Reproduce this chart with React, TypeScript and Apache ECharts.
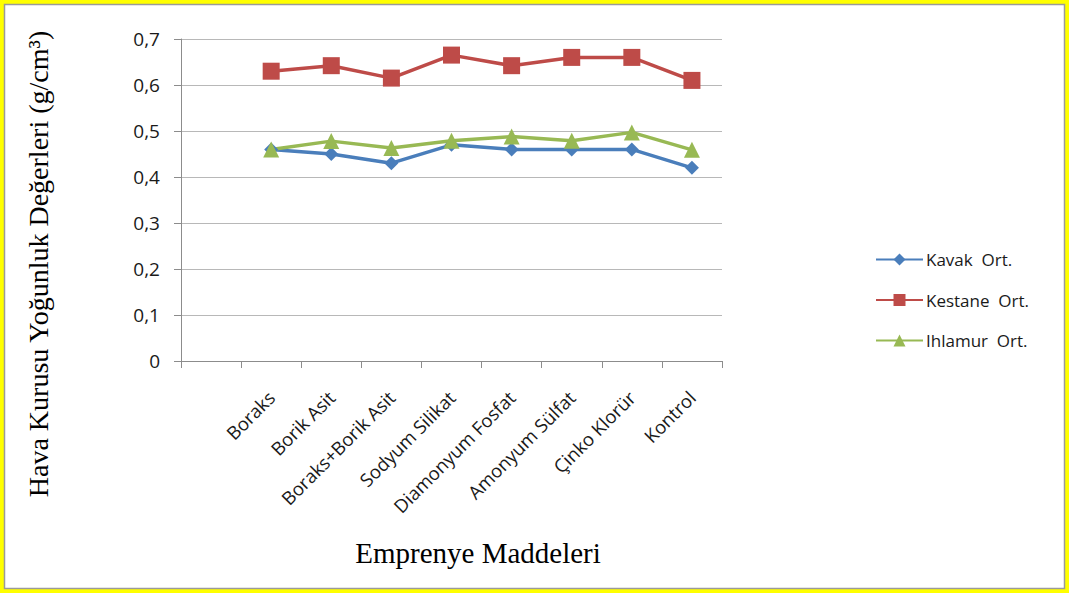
import React, { useEffect, useRef } from "react";
import * as echarts from "echarts";

const categories = ["", "Boraks", "Borik Asit", "Boraks+Borik Asit", "Sodyum Silikat", "Diamonyum Fosfat", "Amonyum Sülfat", "Çinko Klorür", "Kontrol"];
const kavak = [null, 0.46, 0.45, 0.43, 0.47, 0.46, 0.46, 0.46, 0.42];
const kestane = [null, 0.63, 0.642, 0.615, 0.665, 0.642, 0.66, 0.66, 0.61];
const ihlamur = [null, 0.46, 0.478, 0.463, 0.479, 0.488, 0.479, 0.497, 0.459];
const yTitle = "Hava Kurusu Yoğunluk Değerleri (g/cm³)";
const xTitle = "Emprenye Maddeleri";

export default function App() {
  const ref = useRef<HTMLDivElement>(null);
  useEffect(() => {
    document.body.style.margin = "0";
    const chart = echarts.init(ref.current!, null, { renderer: "svg" });
    const labelFont = "'Open Sans', sans-serif";
    chart.setOption({
      animation: false,
      backgroundColor: "#ffffff",
      grid: { left: 181, right: 347, top: 39, bottom: 232, containLabel: false },
      xAxis: {
        type: "category",
        data: categories,
        boundaryGap: true,
        axisLine: { show: true, lineStyle: { color: "#8c8c8c", width: 1 } },
        axisTick: { show: true, length: 7, lineStyle: { color: "#8c8c8c" } },
        axisLabel: {
          rotate: 45,
          interval: 0,
          margin: 33,
          fontSize: 18.5,
          fontFamily: labelFont,
          color: "#1a1a1a",
        },
        splitLine: { show: false },
      },
      yAxis: {
        type: "value",
        min: 0,
        max: 0.7,
        interval: 0.1,
        axisLine: { show: true, lineStyle: { color: "#8c8c8c", width: 1 } },
        axisTick: { show: true, length: 7, lineStyle: { color: "#8c8c8c" } },
        axisLabel: {
          margin: 21,
          fontSize: 19,
          fontFamily: labelFont,
          color: "#1a1a1a",
          formatter: (v: number) => (v === 0 ? "0" : v.toFixed(1).replace(".", ",")),
        },
        splitLine: { show: true, lineStyle: { color: "#b8b8b8", width: 1 } },
      },
      legend: {
        orient: "vertical",
        left: 875,
        top: 251,
        padding: 0,
        itemWidth: 47,
        itemHeight: 15,
        itemGap: 23.5,
        formatter: (name: string) => name.replace(" ", "  "),
        textStyle: { fontSize: 17, fontFamily: labelFont, color: "#1a1a1a", padding: [0, 0, 0, -2] },
        data: ["Kavak Ort.", "Kestane Ort.", "Ihlamur Ort."],
      },
      series: [
        {
          name: "Kavak Ort.",
          type: "line",
          data: kavak,
          symbol: "diamond",
          symbolSize: 14,
          lineStyle: { color: "#4A7EBB", width: 3.5 },
          itemStyle: { color: "#4A7EBB" },
        },
        {
          name: "Kestane Ort.",
          type: "line",
          data: kestane,
          symbol: "rect",
          symbolSize: 17,
          lineStyle: { color: "#BE4B48", width: 3.5 },
          itemStyle: { color: "#BE4B48" },
        },
        {
          name: "Ihlamur Ort.",
          type: "line",
          data: ihlamur,
          symbol: "triangle",
          symbolSize: 16,
          lineStyle: { color: "#98B954", width: 3.5 },
          itemStyle: { color: "#98B954" },
        },
      ],
      graphic: [
        { type: "rect", z: -10, silent: true, shape: { x: 0, y: 0, width: 1069, height: 593 }, style: { fill: "#FFFF00" } },
        { type: "rect", z: -9, silent: true, shape: { x: 4.5, y: 4.5, width: 1060, height: 584 }, style: { fill: "#ffffff", stroke: "#9a9a9a", lineWidth: 1.5 } },
        {
          type: "text",
          x: 38,
          y: 264,
          rotation: Math.PI / 2,
          style: {
            text: yTitle,
            font: "28px 'Liberation Serif', 'Times New Roman', serif",
            fill: "#000000",
            align: "center",
            verticalAlign: "middle",
          },
        },
        {
          type: "text",
          x: 478,
          y: 553,
          style: {
            text: xTitle,
            font: "29px 'Liberation Serif', 'Times New Roman', serif",
            fill: "#000000",
            align: "center",
            verticalAlign: "middle",
          },
        },
      ],
    });
    return () => chart.dispose();
  }, []);
  return <div ref={ref} style={{ width: 1069, height: 593, position: "absolute", left: 0, top: 0 }} />;
}
